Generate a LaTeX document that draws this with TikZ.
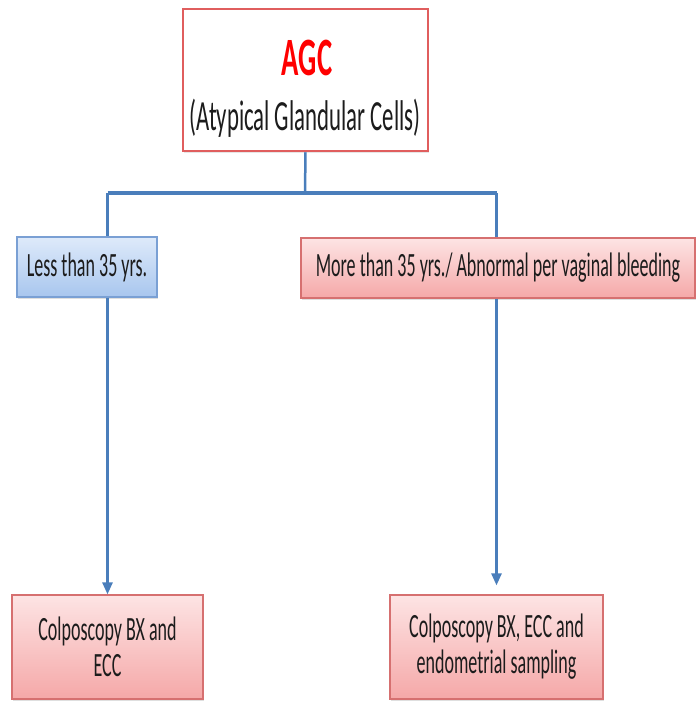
\documentclass[tikz,border=0pt]{standalone}
\usepackage{fontspec}
\setmainfont{Carlito}[FakeStretch=0.53]
\usepackage{tikz}
\usetikzlibrary{positioning,arrows.meta,shadows}
\definecolor{myred}{RGB}{224,94,94}
\definecolor{myblue}{RGB}{74,126,187}
\definecolor{lightblue}{RGB}{222,234,250}
\definecolor{midblue}{RGB}{168,198,238}
\definecolor{edgeblue}{RGB}{122,160,212}
\definecolor{lightpink}{RGB}{253,228,228}
\definecolor{midpink}{RGB}{245,168,168}
\definecolor{edgepink}{RGB}{214,112,112}
\definecolor{ink}{RGB}{28,28,28}

\begin{document}
\begin{tikzpicture}[x=1pt, y=-1pt, text=ink,
  box/.style = {draw, rectangle, inner sep=0pt, align=center,
                font=\fontsize{34}{36}\selectfont,
                drop shadow={shadow xshift=1pt, shadow yshift=-1.5pt, opacity=0.25}},
  bluebox/.style = {box, draw=edgeblue, line width=1.2pt, top color=lightblue, bottom color=midblue},
  pinkbox/.style = {box, draw=edgepink, line width=1.2pt, top color=lightpink, bottom color=midpink},
  link/.style = {draw=myblue, line width=2.5pt},
  arrow/.style = {link, -{Triangle[length=12pt, width=10pt]}}]
  \useasboundingbox (0,0) rectangle (696,701);

  % top node
  \node[draw=myred, line width=2.5pt, fill=white, minimum width=245pt, minimum height=142pt,
        drop shadow={shadow xshift=1pt, shadow yshift=-1.5pt, opacity=0.2}] (agc) at (305.5,80) {};
  \node[anchor=base, text=red, font=\fontsize{54}{54}\selectfont\bfseries] (agctitle) at (307,75) {AGC};
  \node[anchor=base, font=\fontsize{43}{43}\selectfont] (agcsub) at (305,130) {(Atypical Glandular Cells)};

  % age groups
  \node[bluebox, minimum width=140pt, minimum height=60pt] (less) at (87,267) {Less than 35 yrs.};
  \node[pinkbox, minimum width=394pt, minimum height=60pt] (more) at (498,268) {More than 35 yrs./ Abnormal per vaginal bleeding};

  % work-up
  \node[pinkbox, minimum width=191pt, minimum height=104pt] (col1) at (107.5,647) {Colposcopy BX and\\ECC};
  \node[pinkbox, minimum width=213pt, minimum height=104pt] (col2) at (496.5,647) {Colposcopy BX, ECC and\\endometrial sampling};

  \coordinate (split) at (305,193);
  \draw[link] (agc.south) -- (split);
  \draw[link, line width=4pt] (split -| col1.north) -- (split -| col2.north);
  \draw[link] (split -| col1.north) -- (less.north -| col1.north);
  \draw[link] (split -| col2.north) -- (more.north -| col2.north);

  \draw[arrow] (less.south -| col1.north) -- (col1.north);
  \draw[arrow, shorten >=9pt] (more.south -| col2.north) -- (col2.north);
\end{tikzpicture}
\end{document}
